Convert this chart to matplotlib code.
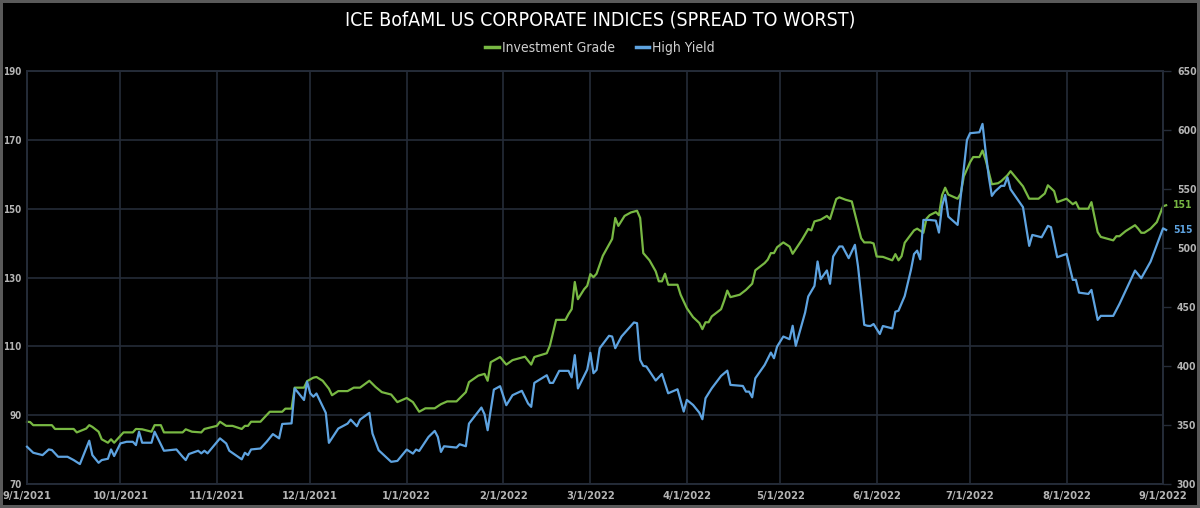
import matplotlib
matplotlib.use("Agg")
import matplotlib.pyplot as plt
import matplotlib.dates as mdates
import pandas as pd

plt.rcParams['font.family'] = ['DejaVu Sans']
plt.rcParams['font.stretch'] = 'condensed'

# Investment Grade spread (left axis, bp)
ig_dates = [
    "2021-09-01", "2021-09-02", "2021-09-03", "2021-09-09", "2021-09-10", "2021-09-16", "2021-09-17",
    "2021-09-20", "2021-09-21", "2021-09-22", "2021-09-24", "2021-09-25", "2021-09-27", "2021-09-28",
    "2021-09-29", "2021-10-02", "2021-10-05", "2021-10-06", "2021-10-08", "2021-10-11", "2021-10-12",
    "2021-10-14", "2021-10-15", "2021-10-21", "2021-10-22", "2021-10-24", "2021-10-27", "2021-10-28",
    "2021-11-01", "2021-11-02", "2021-11-04", "2021-11-06", "2021-11-09", "2021-11-10", "2021-11-11",
    "2021-11-12", "2021-11-15", "2021-11-18", "2021-11-22", "2021-11-23", "2021-11-25", "2021-11-26",
    "2021-11-29", "2021-11-30", "2021-12-02", "2021-12-03", "2021-12-05", "2021-12-07", "2021-12-08",
    "2021-12-10", "2021-12-13", "2021-12-15", "2021-12-17", "2021-12-20", "2021-12-22", "2021-12-24",
    "2021-12-27", "2021-12-29", "2022-01-01", "2022-01-03", "2022-01-05", "2022-01-07", "2022-01-10",
    "2022-01-12", "2022-01-14", "2022-01-17", "2022-01-20", "2022-01-21", "2022-01-24", "2022-01-26",
    "2022-01-27", "2022-01-28", "2022-01-31", "2022-02-02", "2022-02-04", "2022-02-08", "2022-02-10",
    "2022-02-11", "2022-02-15", "2022-02-16", "2022-02-18", "2022-02-21", "2022-02-22", "2022-02-23",
    "2022-02-24", "2022-02-25", "2022-02-27", "2022-02-28", "2022-03-01", "2022-03-02", "2022-03-03",
    "2022-03-05", "2022-03-08", "2022-03-09", "2022-03-10", "2022-03-12", "2022-03-14", "2022-03-16",
    "2022-03-17", "2022-03-18", "2022-03-20", "2022-03-22", "2022-03-23", "2022-03-24", "2022-03-25",
    "2022-03-26", "2022-03-29", "2022-03-30", "2022-04-01", "2022-04-03", "2022-04-05", "2022-04-06",
    "2022-04-07", "2022-04-08", "2022-04-09", "2022-04-12", "2022-04-13", "2022-04-14", "2022-04-15",
    "2022-04-18", "2022-04-20", "2022-04-22", "2022-04-23", "2022-04-26", "2022-04-27", "2022-04-28",
    "2022-04-29", "2022-04-30", "2022-05-02", "2022-05-04", "2022-05-05", "2022-05-08", "2022-05-10",
    "2022-05-11", "2022-05-12", "2022-05-14", "2022-05-16", "2022-05-17", "2022-05-19", "2022-05-20",
    "2022-05-22", "2022-05-24", "2022-05-27", "2022-05-28", "2022-05-30", "2022-05-31", "2022-06-01",
    "2022-06-03", "2022-06-06", "2022-06-07", "2022-06-08", "2022-06-09", "2022-06-10", "2022-06-13",
    "2022-06-14", "2022-06-16", "2022-06-17", "2022-06-18", "2022-06-20", "2022-06-21", "2022-06-22",
    "2022-06-23", "2022-06-24", "2022-06-27", "2022-06-28", "2022-06-29", "2022-07-01", "2022-07-02",
    "2022-07-04", "2022-07-05", "2022-07-06", "2022-07-08", "2022-07-10", "2022-07-11", "2022-07-13",
    "2022-07-14", "2022-07-16", "2022-07-18", "2022-07-20", "2022-07-23", "2022-07-25", "2022-07-26",
    "2022-07-28", "2022-07-29", "2022-08-01", "2022-08-03", "2022-08-04", "2022-08-05", "2022-08-08",
    "2022-08-09", "2022-08-11", "2022-08-12", "2022-08-16", "2022-08-17", "2022-08-18", "2022-08-20",
    "2022-08-23", "2022-08-24", "2022-08-25", "2022-08-26", "2022-08-28", "2022-08-30", "2022-09-01",
    "2022-09-02",
]
ig_values = [
    88.1, 88.0, 87.1, 87.1, 86.0, 86.0, 85.0,
    86.1, 87.1, 86.6, 85.2, 83.0, 82.0, 83.0,
    82.0, 85.0, 85.0, 86.0, 85.9, 85.2, 87.1,
    87.1, 85.0, 85.0, 85.9, 85.2, 85.0, 86.0,
    86.9, 88.1, 86.9, 86.9, 86.0, 86.9, 86.9,
    88.1, 88.1, 91.0, 91.0, 91.9, 91.9, 98.0,
    98.0, 99.9, 100.9, 101.1, 100.0, 97.7, 95.8,
    97.0, 97.0, 98.0, 98.0, 100.0, 98.2, 96.7,
    96.0, 93.8, 95.0, 93.8, 91.0, 92.0, 92.0,
    93.2, 94.0, 94.0, 96.7, 99.6, 101.5, 102.0,
    100.0, 105.4, 106.9, 104.7, 106.0, 107.0, 104.7,
    106.9, 108.0, 110.2, 117.7, 117.7, 119.4, 120.8,
    128.7, 123.7, 126.6, 127.6, 131.0, 130.1, 131.1,
    136.3, 141.2, 147.3, 145.0, 147.9, 148.9, 149.4,
    147.3, 137.1, 135.0, 131.8, 128.9, 128.9, 131.1,
    127.9, 127.9, 125.0, 121.1, 118.5, 116.8, 115.0,
    117.0, 117.0, 118.7, 120.8, 123.3, 126.2, 124.3,
    125.0, 126.4, 128.2, 132.1, 134.2, 135.2, 137.1,
    137.1, 138.8, 140.2, 139.0, 136.9, 141.0, 144.1,
    143.7, 146.3, 146.8, 147.9, 147.0, 152.8, 153.3,
    152.6, 152.1, 141.4, 140.2, 140.2, 139.9, 136.1,
    136.0, 135.0, 136.8, 135.0, 136.2, 140.1, 143.7,
    144.2, 143.0, 147.1, 148.1, 149.0, 148.1, 153.9,
    156.1, 154.1, 152.9, 154.4, 159.4, 163.5, 165.0,
    165.0, 166.9, 164.2, 157.1, 157.4, 158.0, 159.7,
    160.9, 158.7, 156.5, 152.9, 152.9, 154.4, 156.8,
    155.1, 151.9, 152.9, 151.3, 151.9, 150.0, 150.0,
    151.9, 143.2, 141.8, 140.8, 142.0, 142.0, 143.5,
    145.2, 144.2, 143.0, 143.0, 144.2, 146.1, 150.7,
    151.0,
]

# High Yield spread (right axis, bp)
hy_dates = [
    "2021-09-01", "2021-09-03", "2021-09-06", "2021-09-08", "2021-09-09", "2021-09-11", "2021-09-14",
    "2021-09-16", "2021-09-18", "2021-09-21", "2021-09-22", "2021-09-24", "2021-09-25", "2021-09-27",
    "2021-09-28", "2021-09-29", "2021-10-01", "2021-10-03", "2021-10-05", "2021-10-06", "2021-10-07",
    "2021-10-08", "2021-10-11", "2021-10-12", "2021-10-15", "2021-10-19", "2021-10-21", "2021-10-22",
    "2021-10-23", "2021-10-26", "2021-10-27", "2021-10-28", "2021-10-29", "2021-11-02", "2021-11-04",
    "2021-11-05", "2021-11-09", "2021-11-10", "2021-11-11", "2021-11-12", "2021-11-15", "2021-11-17",
    "2021-11-19", "2021-11-21", "2021-11-22", "2021-11-25", "2021-11-26", "2021-11-29", "2021-11-30",
    "2021-12-01", "2021-12-02", "2021-12-03", "2021-12-06", "2021-12-07", "2021-12-10", "2021-12-13",
    "2021-12-14", "2021-12-16", "2021-12-17", "2021-12-20", "2021-12-21", "2021-12-23", "2021-12-27",
    "2021-12-29", "2022-01-01", "2022-01-03", "2022-01-04", "2022-01-05", "2022-01-08", "2022-01-10",
    "2022-01-11", "2022-01-12", "2022-01-13", "2022-01-17", "2022-01-18", "2022-01-20", "2022-01-21",
    "2022-01-25", "2022-01-26", "2022-01-27", "2022-01-29", "2022-01-31", "2022-02-02", "2022-02-04",
    "2022-02-07", "2022-02-09", "2022-02-10", "2022-02-11", "2022-02-15", "2022-02-16", "2022-02-17",
    "2022-02-19", "2022-02-22", "2022-02-23", "2022-02-24", "2022-02-25", "2022-02-28", "2022-03-01",
    "2022-03-02", "2022-03-03", "2022-03-04", "2022-03-07", "2022-03-08", "2022-03-09", "2022-03-11",
    "2022-03-15", "2022-03-16", "2022-03-17", "2022-03-18", "2022-03-19", "2022-03-22", "2022-03-24",
    "2022-03-26", "2022-03-29", "2022-03-31", "2022-04-01", "2022-04-03", "2022-04-05", "2022-04-06",
    "2022-04-07", "2022-04-09", "2022-04-12", "2022-04-14", "2022-04-15", "2022-04-19", "2022-04-20",
    "2022-04-21", "2022-04-22", "2022-04-23", "2022-04-26", "2022-04-28", "2022-04-29", "2022-04-30",
    "2022-05-02", "2022-05-04", "2022-05-05", "2022-05-06", "2022-05-09", "2022-05-10", "2022-05-12",
    "2022-05-13", "2022-05-14", "2022-05-16", "2022-05-17", "2022-05-18", "2022-05-20", "2022-05-21",
    "2022-05-23", "2022-05-25", "2022-05-26", "2022-05-28", "2022-05-29", "2022-05-30", "2022-05-31",
    "2022-06-02", "2022-06-03", "2022-06-06", "2022-06-07", "2022-06-08", "2022-06-10", "2022-06-12",
    "2022-06-13", "2022-06-14", "2022-06-15", "2022-06-16", "2022-06-18", "2022-06-20", "2022-06-21",
    "2022-06-22", "2022-06-23", "2022-06-24", "2022-06-27", "2022-06-28", "2022-06-30", "2022-07-01",
    "2022-07-04", "2022-07-05", "2022-07-06", "2022-07-07", "2022-07-08", "2022-07-09", "2022-07-11",
    "2022-07-12", "2022-07-13", "2022-07-14", "2022-07-18", "2022-07-20", "2022-07-21", "2022-07-24",
    "2022-07-26", "2022-07-27", "2022-07-29", "2022-08-01", "2022-08-03", "2022-08-04", "2022-08-05",
    "2022-08-08", "2022-08-09", "2022-08-11", "2022-08-12", "2022-08-16", "2022-08-17", "2022-08-18",
    "2022-08-20", "2022-08-23", "2022-08-25", "2022-08-28", "2022-08-31", "2022-09-01", "2022-09-02",
]
hy_values = [
    331.6, 326.5, 324.5, 329.3, 328.8, 323.1, 323.1,
    320.3, 316.9, 336.7, 324.5, 318.0, 320.3, 321.4,
    329.3, 323.7, 334.4, 335.8, 335.8, 333.0, 344.3,
    335.0, 335.0, 344.3, 328.2, 329.3, 323.1, 320.3,
    325.4, 328.2, 326.0, 328.2, 326.0, 338.7, 334.4,
    328.2, 320.9, 326.5, 324.5, 329.3, 330.1, 335.8,
    342.3, 338.7, 350.9, 351.4, 381.1, 371.2, 386.8,
    376.9, 374.0, 376.7, 360.3, 334.9, 347.0, 351.2,
    354.6, 349.0, 354.6, 360.3, 342.8, 328.6, 318.8,
    319.6, 329.2, 325.8, 329.2, 328.0, 339.9, 345.0,
    339.9, 327.2, 332.0, 330.9, 333.7, 332.0, 351.2,
    364.8, 359.1, 345.6, 380.0, 382.9, 366.8, 375.3,
    379.0, 368.2, 365.4, 385.7, 392.2, 385.7, 385.7,
    395.9, 395.9, 390.3, 409.2, 381.0, 397.0, 411.2,
    393.9, 396.7, 415.1, 425.6, 425.0, 415.1, 425.0,
    436.9, 436.3, 405.2, 400.1, 399.6, 387.7, 393.3,
    376.9, 380.3, 361.4, 371.3, 367.0, 360.5, 354.9,
    372.7, 381.1, 391.6, 396.1, 384.0, 383.1, 378.3,
    378.3, 373.5, 389.6, 400.9, 411.4, 406.6, 416.5,
    425.0, 422.7, 434.1, 417.1, 445.3, 458.9, 467.9,
    488.6, 473.6, 481.0, 469.7, 492.8, 501.3, 501.3,
    491.4, 502.7, 484.4, 434.9, 434.1, 433.9, 435.6,
    427.1, 433.9, 431.9, 446.0, 446.9, 459.3, 481.4,
    494.9, 497.8, 490.4, 523.8, 523.8, 523.2, 513.1,
    535.7, 545.0, 526.6, 519.6, 543.6, 591.6, 597.3,
    598.1, 605.2, 581.8, 560.6, 544.2, 547.9, 552.7,
    552.7, 560.0, 549.8, 534.6, 501.8, 511.1, 509.1,
    518.8, 517.6, 492.2, 495.0, 473.0, 473.0, 462.2,
    461.1, 464.5, 439.1, 442.5, 442.5, 447.5, 452.6,
    463.9, 480.9, 474.4, 488.5, 509.7, 516.7, 515.3,
]

month_ticks = pd.date_range("2021-09-01", "2022-09-01", freq="MS")
ig_ticks = [70, 90, 110, 130, 150, 170, 190]
hy_ticks = [300, 350, 400, 450, 500, 550, 600, 650]

green = "#78b843"
blue = "#5ea3e0"
grid_col = "#252c38"
label_col = "#b4b4b4"

fig = plt.figure(figsize=(12, 5.08), dpi=100, facecolor="black",
                 edgecolor="#5a5a5a", linewidth=3)
ax = fig.add_axes([0.0225, 0.0472, 0.9467, 0.8130])
ax.set_facecolor("black")
ax2 = ax.twinx()

ig_x = pd.to_datetime(ig_dates)
hy_x = pd.to_datetime(hy_dates)

ax.plot(ig_x, ig_values, color=green, lw=1.6, clip_on=False, zorder=3)
ax2.plot(hy_x, hy_values, color=blue, lw=1.6, clip_on=False, zorder=3)

ax.set_xlim(month_ticks[0], month_ticks[-1])
ax.set_ylim(70, 190)
ax2.set_ylim(300, 650)

ax.set_xticks(month_ticks)
ax.xaxis.set_major_formatter(mdates.DateFormatter("%-m/%-d/%Y"))
ax.set_yticks(ig_ticks)
ax2.set_yticks(hy_ticks)

ax.grid(True, color=grid_col, lw=1.2)
ax.set_axisbelow(True)

for a in (ax, ax2):
    for s in a.spines.values():
        s.set_color(grid_col)
        s.set_linewidth(1.2)

ax.tick_params(axis="x", colors=label_col, labelsize=8, length=0, pad=5)
ax.tick_params(axis="y", colors=label_col, labelsize=7, length=0, pad=4)
ax2.tick_params(axis="y", colors=label_col, labelsize=7.5, length=6, width=1,
                color=grid_col, pad=4)
for t in ax.get_xticklabels() + ax.get_yticklabels() + ax2.get_yticklabels():
    t.set_fontweight("bold")

# end-of-line value labels
ax.annotate(f"{ig_values[-1]:.0f}", xy=(ig_x[-1], ig_values[-1]), xytext=(5, 0),
            textcoords="offset points", color=green, fontsize=7.5, va="center",
            fontweight="bold", annotation_clip=False)
ax2.annotate(f"{hy_values[-1]:.0f}", xy=(hy_x[-1], hy_values[-1]), xytext=(5, 0),
             textcoords="offset points", color=blue, fontsize=7.5, va="center",
             fontweight="bold", annotation_clip=False)

fig.text(0.5, 0.960, "ICE BofAML US CORPORATE INDICES (SPREAD TO WORST)",
         ha="center", va="center", color="white", fontsize=14)

h1, = ax.plot([], [], color=green, lw=2.5, label="Investment Grade")
h2, = ax.plot([], [], color=blue, lw=2.5, label="High Yield")
fig.legend(handles=[h1, h2], loc="center", bbox_to_anchor=(0.5, 0.905), ncol=2,
           frameon=False, fontsize=10, labelcolor="#d0d0d0", handlelength=1.0,
           handletextpad=0.2, columnspacing=1.5)

fig.savefig("out.png", dpi=100, facecolor="black", edgecolor="#5a5a5a")
